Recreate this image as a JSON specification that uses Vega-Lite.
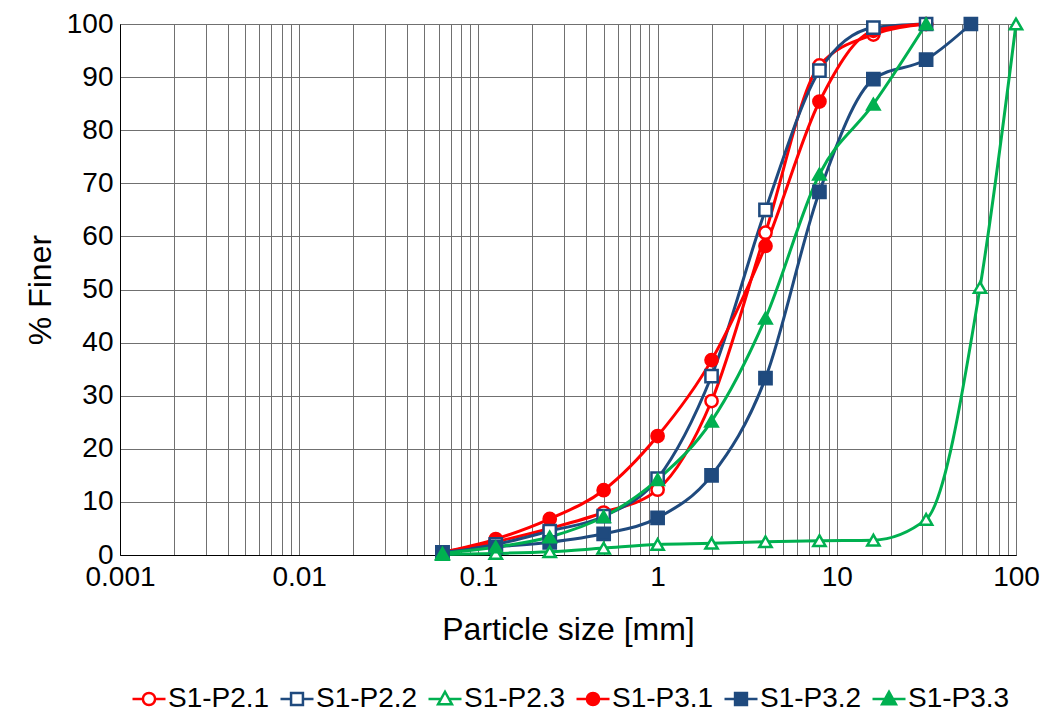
{
  "$schema": "https://vega.github.io/schema/vega-lite/v6.json",
  "width": 896,
  "height": 531,
  "autosize": {"type": "none"},
  "padding": {"left": 120, "top": 24, "right": 38, "bottom": 169},
  "background": "white",
  "config": {
    "font": "Liberation Sans",
    "view": {"stroke": "#000000", "strokeWidth": 1},
    "axis": {
      "domainColor": "#000000",
      "ticks": false,
      "gridColor": "#707070",
      "gridWidth": 1,
      "labelColor": "#000000",
      "titleColor": "#000000",
      "labelFont": "Liberation Sans",
      "titleFont": "Liberation Sans",
      "titleFontWeight": "normal",
      "labelFontSize": 28,
      "titleFontSize": 32,
      "labelFlush": false
    }
  },
  "data": {
    "values": [
      {"series": "S1-P2.1", "size": 0.063, "finer": 0.5},
      {"series": "S1-P2.1", "size": 0.125, "finer": 2.5},
      {"series": "S1-P2.1", "size": 0.25, "finer": 5.0},
      {"series": "S1-P2.1", "size": 0.5, "finer": 8.0},
      {"series": "S1-P2.1", "size": 1, "finer": 12.3},
      {"series": "S1-P2.1", "size": 2, "finer": 29.0},
      {"series": "S1-P2.1", "size": 4, "finer": 60.7},
      {"series": "S1-P2.1", "size": 8, "finer": 92.2},
      {"series": "S1-P2.1", "size": 16, "finer": 98.0},
      {"series": "S1-P2.1", "size": 31.5, "finer": 100},
      {"series": "S1-P2.2", "size": 0.063, "finer": 0.5},
      {"series": "S1-P2.2", "size": 0.125, "finer": 2.0},
      {"series": "S1-P2.2", "size": 0.25, "finer": 4.5},
      {"series": "S1-P2.2", "size": 0.5, "finer": 7.3},
      {"series": "S1-P2.2", "size": 1, "finer": 14.4},
      {"series": "S1-P2.2", "size": 2, "finer": 33.7},
      {"series": "S1-P2.2", "size": 4, "finer": 65.0},
      {"series": "S1-P2.2", "size": 8, "finer": 91.2},
      {"series": "S1-P2.2", "size": 16, "finer": 99.3},
      {"series": "S1-P2.2", "size": 31.5, "finer": 100},
      {"series": "S1-P2.3", "size": 0.063, "finer": 0.1},
      {"series": "S1-P2.3", "size": 0.125, "finer": 0.3},
      {"series": "S1-P2.3", "size": 0.25, "finer": 0.6},
      {"series": "S1-P2.3", "size": 0.5, "finer": 1.3},
      {"series": "S1-P2.3", "size": 1, "finer": 2.0},
      {"series": "S1-P2.3", "size": 2, "finer": 2.2},
      {"series": "S1-P2.3", "size": 4, "finer": 2.5},
      {"series": "S1-P2.3", "size": 8, "finer": 2.7},
      {"series": "S1-P2.3", "size": 16, "finer": 2.8},
      {"series": "S1-P2.3", "size": 31.5, "finer": 6.7},
      {"series": "S1-P2.3", "size": 63, "finer": 50.4},
      {"series": "S1-P2.3", "size": 100, "finer": 100},
      {"series": "S1-P3.1", "size": 0.063, "finer": 0.5},
      {"series": "S1-P3.1", "size": 0.125, "finer": 3.0},
      {"series": "S1-P3.1", "size": 0.25, "finer": 6.8},
      {"series": "S1-P3.1", "size": 0.5, "finer": 12.2},
      {"series": "S1-P3.1", "size": 1, "finer": 22.4},
      {"series": "S1-P3.1", "size": 2, "finer": 36.7},
      {"series": "S1-P3.1", "size": 4, "finer": 58.2},
      {"series": "S1-P3.1", "size": 8, "finer": 85.4},
      {"series": "S1-P3.1", "size": 16, "finer": 98.7},
      {"series": "S1-P3.1", "size": 31.5, "finer": 100},
      {"series": "S1-P3.2", "size": 0.063, "finer": 0.5},
      {"series": "S1-P3.2", "size": 0.125, "finer": 1.5},
      {"series": "S1-P3.2", "size": 0.25, "finer": 2.4},
      {"series": "S1-P3.2", "size": 0.5, "finer": 4.0},
      {"series": "S1-P3.2", "size": 1, "finer": 7.0},
      {"series": "S1-P3.2", "size": 2, "finer": 15.0},
      {"series": "S1-P3.2", "size": 4, "finer": 33.3},
      {"series": "S1-P3.2", "size": 8, "finer": 68.4},
      {"series": "S1-P3.2", "size": 16, "finer": 89.6},
      {"series": "S1-P3.2", "size": 31.5, "finer": 93.3},
      {"series": "S1-P3.2", "size": 56, "finer": 100},
      {"series": "S1-P3.3", "size": 0.063, "finer": 0.3},
      {"series": "S1-P3.3", "size": 0.125, "finer": 1.5},
      {"series": "S1-P3.3", "size": 0.25, "finer": 3.4},
      {"series": "S1-P3.3", "size": 0.5, "finer": 7.2},
      {"series": "S1-P3.3", "size": 1, "finer": 14.2},
      {"series": "S1-P3.3", "size": 2, "finer": 25.2},
      {"series": "S1-P3.3", "size": 4, "finer": 44.6},
      {"series": "S1-P3.3", "size": 8, "finer": 71.7},
      {"series": "S1-P3.3", "size": 16, "finer": 84.9},
      {"series": "S1-P3.3", "size": 31.5, "finer": 100}
    ]
  },
  "encoding": {
    "x": {
      "field": "size",
      "type": "quantitative",
      "scale": {"type": "log", "domain": [0.001, 100], "nice": false},
      "axis": {
        "title": "Particle size [mm]",
        "values": [0.001, 0.002, 0.003, 0.004, 0.005, 0.006, 0.007, 0.008, 0.009,
                   0.01, 0.02, 0.03, 0.04, 0.05, 0.06, 0.07, 0.08, 0.09,
                   0.1, 0.2, 0.3, 0.4, 0.5, 0.6, 0.7, 0.8, 0.9,
                   1, 2, 3, 4, 5, 6, 7, 8, 9,
                   10, 20, 30, 40, 50, 60, 70, 80, 90, 100],
        "labelExpr": "abs(log(datum.value) / LN10 - round(log(datum.value) / LN10)) < 1e-6 ? '' + datum.value : ''",
        "labelOverlap": false,
        "labelPadding": 8,
        "titleY": 84,
        "titleBaseline": "alphabetic"
      }
    },
    "y": {
      "field": "finer",
      "type": "quantitative",
      "scale": {"domain": [0, 100], "nice": false},
      "axis": {
        "title": "% Finer",
        "values": [0, 10, 20, 30, 40, 50, 60, 70, 80, 90, 100],
        "labelPadding": 7,
        "titleX": -70,
        "titleBaseline": "alphabetic"
      }
    },
    "stroke": {
      "field": "series",
      "type": "nominal",
      "scale": {
        "domain": ["S1-P2.1", "S1-P2.2", "S1-P2.3", "S1-P3.1", "S1-P3.2", "S1-P3.3"],
        "range": ["#ff0000", "#1f4a7e", "#00b050", "#ff0000", "#1f4a7e", "#00b050"]
      },
      "legend": {
        "title": null,
        "orient": "none",
        "direction": "horizontal",
        "legendX": 11,
        "legendY": 657,
        "padding": 0,
        "labelFont": "Liberation Sans",
        "labelFontSize": 28,
        "labelColor": "#000000",
        "labelOffset": 1,
        "labelLimit": 300,
        "columnPadding": 5,
        "symbolSize": 1089,
        "symbolStrokeWidth": 2.5
      }
    }
  },
  "layer": [
    {
      "mark": {"type": "line", "interpolate": "monotone", "strokeWidth": 3, "clip": false},
      "encoding": {"detail": {"field": "series", "type": "nominal"}}
    },
    {
      "transform": [{"filter": "false"}],
      "mark": {"type": "point", "strokeWidth": 2.5, "opacity": 1},
      "encoding": {
        "shape": {
          "field": "series",
          "type": "nominal",
          "scale": {
            "domain": ["S1-P2.1", "S1-P2.2", "S1-P2.3", "S1-P3.1", "S1-P3.2", "S1-P3.3"],
            "range": [
              "M-1,0H-0.37M0.37,0H1M0.37,0A0.37,0.37 0 1,1 -0.37,0A0.37,0.37 0 1,1 0.37,0Z",
              "M-1,0H-0.36M0.36,0H1M-0.36,-0.36H0.36V0.36H-0.36Z",
              "M-1,0H-0.24M0.24,0H1M0,-0.44L0.42,0.32H-0.42Z",
              "M-1,0H-0.37M0.37,0H1M0.37,0A0.37,0.37 0 1,1 -0.37,0A0.37,0.37 0 1,1 0.37,0Z",
              "M-1,0H-0.36M0.36,0H1M-0.36,-0.36H0.36V0.36H-0.36Z",
              "M-1,0H-0.24M0.24,0H1M0,-0.44L0.42,0.32H-0.42Z"
            ]
          }
        },
        "fill": {
          "field": "series",
          "type": "nominal",
          "scale": {
            "domain": ["S1-P2.1", "S1-P2.2", "S1-P2.3", "S1-P3.1", "S1-P3.2", "S1-P3.3"],
            "range": ["#ffffff", "#ffffff", "#ffffff", "#ff0000", "#1f4a7e", "#00b050"]
          }
        }
      }
    },
    {
      "transform": [{"filter": {"field": "series", "oneOf": ["S1-P2.1", "S1-P3.1"]}}],
      "mark": {"type": "point", "shape": "circle", "strokeWidth": 2.5, "opacity": 1, "size": 150, "clip": false},
      "encoding": {"fill": {"field": "series", "type": "nominal"}}
    },
    {
      "transform": [{"filter": {"field": "series", "oneOf": ["S1-P2.2", "S1-P3.2"]}}],
      "mark": {"type": "point", "shape": "square", "strokeWidth": 2.5, "opacity": 1, "size": 150, "clip": false},
      "encoding": {"fill": {"field": "series", "type": "nominal"}}
    },
    {
      "transform": [{"filter": {"field": "series", "oneOf": ["S1-P2.3", "S1-P3.3"]}}],
      "mark": {"type": "point", "shape": "triangle-up", "strokeWidth": 2.5, "opacity": 1, "size": 150, "clip": false},
      "encoding": {"fill": {"field": "series", "type": "nominal"}}
    }
  ]
}
